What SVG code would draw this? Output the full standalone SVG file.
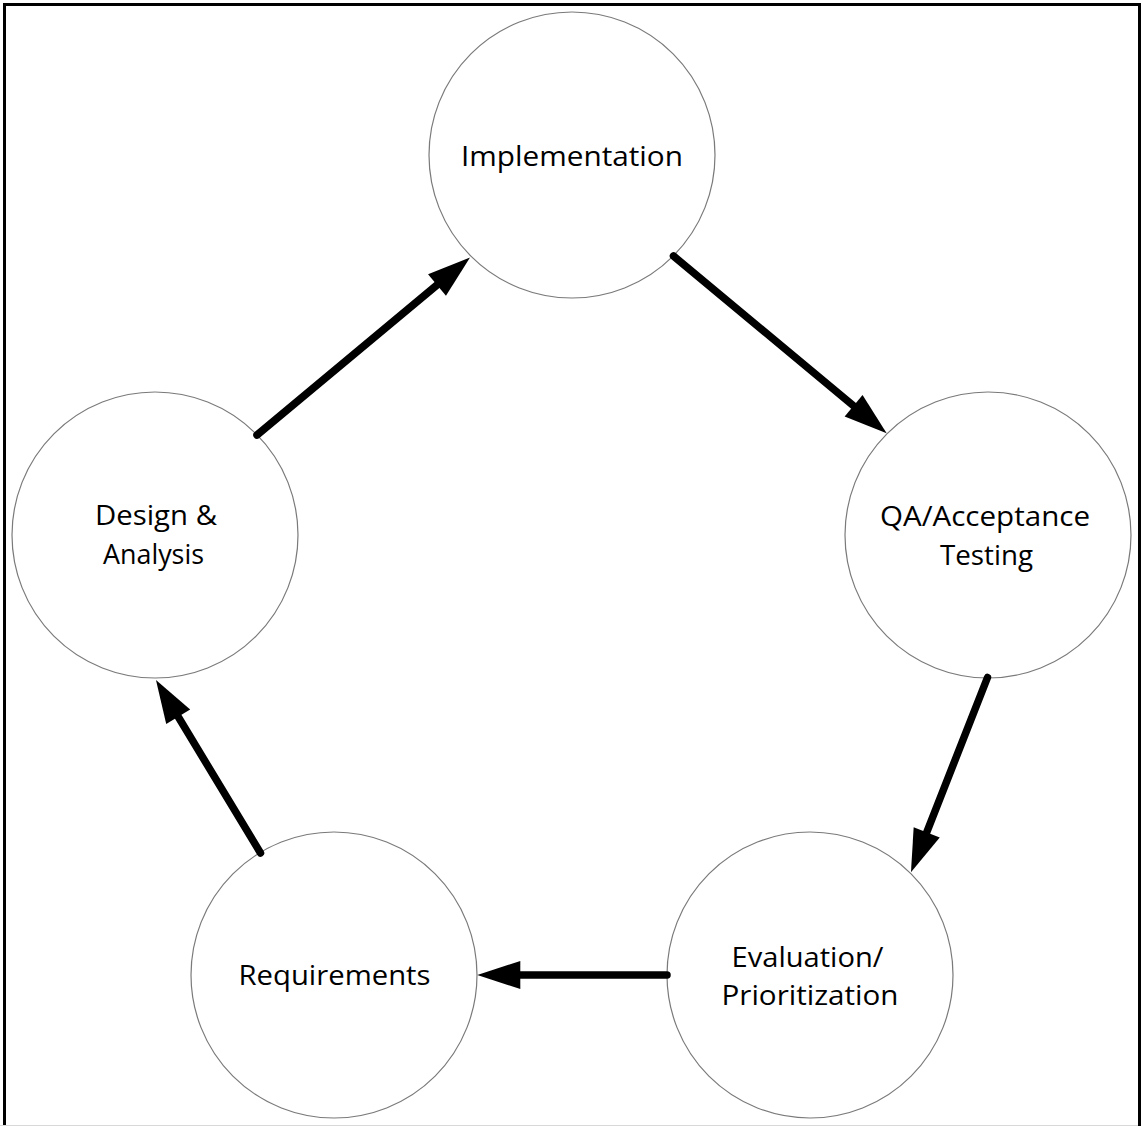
<svg xmlns="http://www.w3.org/2000/svg" width="1142" height="1126" viewBox="0 0 1142 1126">
  <style>
    .node circle { fill: #ffffff; stroke: #7a7a7a; stroke-width: 1.2; }
    .node text { font-family: "Open Sans", "Liberation Sans", sans-serif; font-size: 28px; fill: #000000; text-anchor: middle; }
    .edges line { stroke: #000000; stroke-width: 7.5; stroke-linecap: round; marker-end: url(#head); }
  </style>
  <defs>
    <marker id="head" markerUnits="userSpaceOnUse" markerWidth="44" markerHeight="30" refX="0" refY="14" orient="auto" overflow="visible">
      <path d="M0,0 L43,14 L0,28 Z" fill="#000000"/>
    </marker>
  </defs>

  <rect x="0" y="0" width="1142" height="1126" fill="#ffffff"/>
  <!-- frame: top, left and right edges, light rule at the bottom -->
  <path d="M4.5,1126 V4.5 H1139.5 V1126" fill="none" stroke="#000000" stroke-width="3"/>
  <line x1="0" y1="1125.5" x2="1138" y2="1125.5" stroke="#d8d8d8" stroke-width="1"/>

  <g id="implementation" class="node">
    <circle cx="572" cy="155" r="143"/>
    <text x="572" y="165.5" textLength="222" lengthAdjust="spacingAndGlyphs">Implementation</text>
  </g>
  <g id="qa-acceptance-testing" class="node">
    <circle cx="988" cy="535" r="143"/>
    <text x="985" y="525.5" textLength="210" lengthAdjust="spacingAndGlyphs">QA/Acceptance</text>
    <text x="986.5" y="564.5" textLength="93" lengthAdjust="spacingAndGlyphs">Testing</text>
  </g>
  <g id="evaluation-prioritization" class="node">
    <circle cx="810" cy="975" r="143"/>
    <text x="807.5" y="967" textLength="152" lengthAdjust="spacingAndGlyphs">Evaluation/</text>
    <text x="810" y="1005" textLength="177" lengthAdjust="spacingAndGlyphs">Prioritization</text>
  </g>
  <g id="requirements" class="node">
    <circle cx="334" cy="975" r="143"/>
    <text x="334.5" y="985" textLength="192" lengthAdjust="spacingAndGlyphs">Requirements</text>
  </g>
  <g id="design-analysis" class="node">
    <circle cx="155" cy="535" r="143"/>
    <text x="156" y="525" textLength="122" lengthAdjust="spacingAndGlyphs">Design &amp;</text>
    <text x="153.5" y="564" textLength="101" lengthAdjust="spacingAndGlyphs">Analysis</text>
  </g>

  <g id="connectors" class="edges">
    <line x1="257" y1="435" x2="437" y2="285"/>
    <line x1="673.5" y1="256" x2="853.6" y2="405.8"/>
    <line x1="987.5" y1="677.5" x2="926.7" y2="832.3"/>
    <line x1="667" y1="975" x2="520.3" y2="975"/>
    <line x1="260.5" y1="853" x2="178.2" y2="716.8"/>
  </g>
</svg>
